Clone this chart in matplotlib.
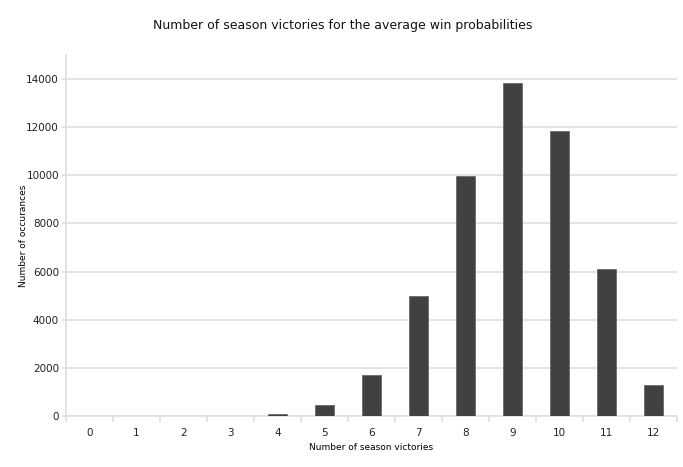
import matplotlib.pyplot as plt
import numpy as np

victories = list(range(13))
occurances = [0, 0, 0, 0, 100, 460, 1710, 4970, 9990, 13820, 11860, 6100, 1280]
yticks = [0, 2000, 4000, 6000, 8000, 10000, 12000, 14000]

plt.rcParams['font.family'] = 'DejaVu Sans'
grid_col = '#e0e0e0'

fig = plt.figure(figsize=(6.83, 4.67), dpi=100)
ax = fig.add_axes([66/683, 51/467, 611/683, 361/467])

x = np.arange(len(victories))
ax.bar(x, occurances, width=0.42, color='#414141', edgecolor='#6a6a6a', linewidth=0.6, zorder=3)

ax.set_xlim(-0.5, len(victories) - 0.5)
ax.set_ylim(0, 15000)
ax.set_yticks(yticks)
ax.set_yticklabels([str(v) for v in yticks], fontsize=7.5, color='#222222')
ax.set_xticks(x)
ax.set_xticklabels([str(v) for v in victories], fontsize=7.5, color='#222222')
ax.tick_params(axis='x', length=0, pad=9)
ax.set_xticks(np.arange(-0.5, len(victories), 1), minor=True)
ax.tick_params(axis='x', which='minor', length=4, color=grid_col, width=1.3)
ax.tick_params(axis='y', length=3, color=grid_col, width=1.3, pad=2)

ax.yaxis.grid(True, color=grid_col, linewidth=1.3, zorder=0)
for s in ['top', 'right']:
    ax.spines[s].set_visible(False)
for s in ['left', 'bottom']:
    ax.spines[s].set_color(grid_col)
    ax.spines[s].set_linewidth(1.3)

ax.set_xlabel('Number of season victories', fontsize=6.5, labelpad=3)
ax.set_ylabel('Number of occurances', fontsize=6.5, labelpad=-1)
fig.text(343/683, 1 - 25/467, 'Number of season victories for the average win probabilities',
         ha='center', va='center', fontsize=9, color='#111111')

fig.savefig('out.png', dpi=100)
